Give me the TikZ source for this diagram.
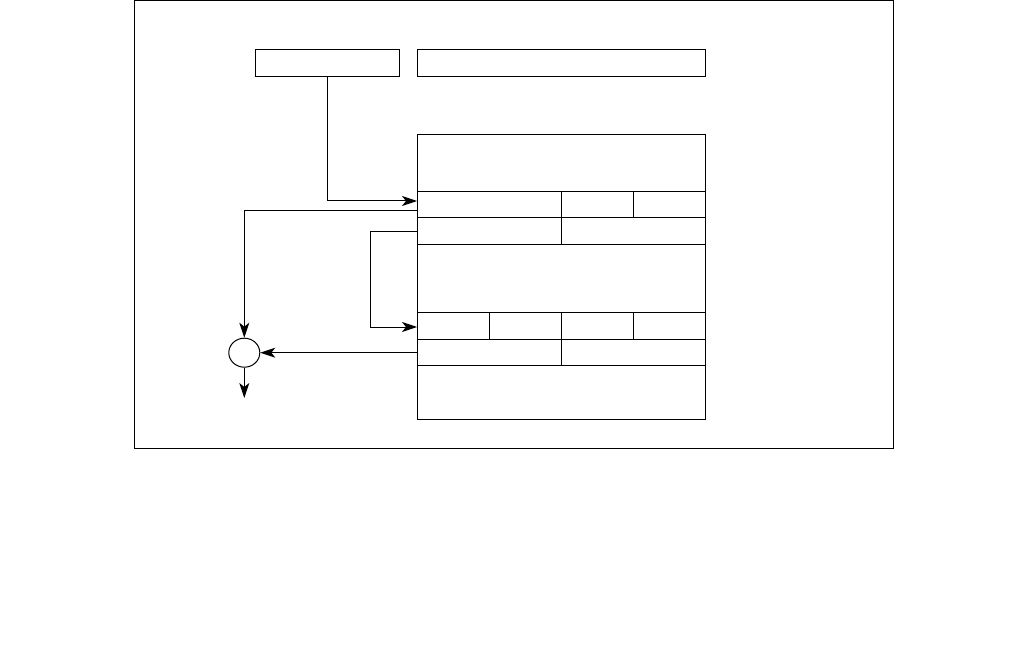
\documentclass[tikz,border=0pt]{standalone}
\usetikzlibrary{arrows.meta,shapes.geometric,calc}
\begin{document}
\begin{tikzpicture}[x=1pt,y=-1pt,line width=1pt,
  cell/.style={draw,rectangle,inner sep=0pt,outer sep=0pt,anchor=north west,minimum height=#1},
  w1/.style={minimum width=72pt},
  w2/.style={minimum width=144pt},
  w4/.style={minimum width=288pt},
  conn/.style={-{Stealth[length=15pt,width=10pt,inset=4pt]}},
  junction/.style={draw,ellipse,inner sep=0pt,minimum width=31pt,minimum height=29pt}]
\useasboundingbox (0,0) rectangle (1026,647);
\draw (134,0.5) rectangle (893,448);
% top boxes
\node[cell=27pt,w2] (boxA) at (255,50) {};
\node[cell=27pt,w4] (boxB) at (417,50) {};
% big box
\node[cell=57pt,w4] (top) at (417,135) {};
\node[cell=26pt,w2] (r1c1) at (417,192) {};
\node[cell=26pt,w1] (r1c2) at (561,192) {};
\node[cell=26pt,w1] (r1c3) at (633,192) {};
\node[cell=27pt,w2] (r2c1) at (417,218) {};
\node[cell=27pt,w2] (r2c2) at (561,218) {};
\node[cell=67pt,w4] (mid) at (417,245) {};
\node[cell=27pt,w1] (r4c1) at (417,312) {};
\node[cell=27pt,w1] (r4c2) at (489,312) {};
\node[cell=27pt,w1] (r4c3) at (561,312) {};
\node[cell=27pt,w1] (r4c4) at (633,312) {};
\node[cell=26pt,w2] (r5c1) at (417,339) {};
\node[cell=26pt,w2] (r5c2) at (561,339) {};
\node[cell=54pt,w4] (bot) at (417,365) {};
% junction
\node[junction] (circ) at (244.3,352.7) {};
\coordinate (out) at (244.3,398);
% connectors
\draw[conn] (boxA.south) |- ([yshift=4pt]r1c1.west);
\draw[conn] ([yshift=-6pt]r1c1.west) -| (circ.north);
\draw[conn] (r2c1.west) -- ++(-47,0) |- ([yshift=-1.5pt]r4c1.west);
\draw[conn] (r5c1.west |- circ.east) -- (circ.east);
\draw[conn] (circ.south) -- (out);
\end{tikzpicture}
\end{document}
